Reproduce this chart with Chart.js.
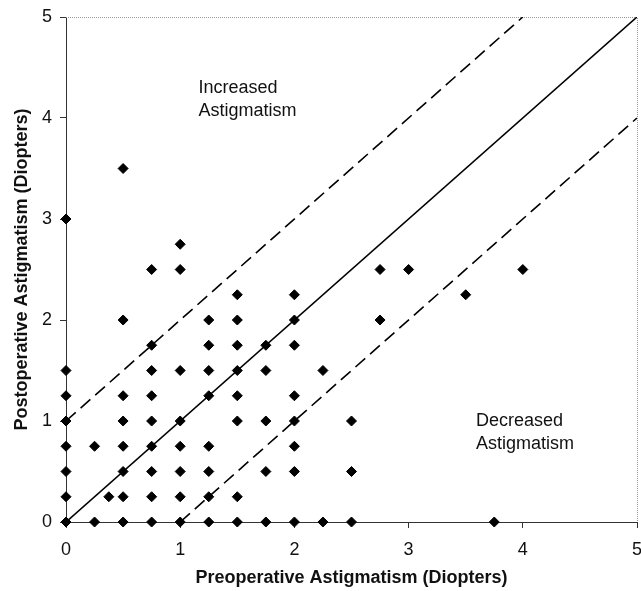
<!DOCTYPE html>
<html lang="en">
<head>
<meta charset="UTF-8">
<title>Astigmatism</title>
<script src="https://cdn.jsdelivr.net/npm/chart.js"></script>
<style>
  body { margin: 0; background: #fff; }
  #wrap { width: 641px; height: 591px; }
</style>
</head>
<body>
<div id="wrap"><canvas id="chart" width="641" height="591"></canvas></div>
<script>
  // each postoperative level and the preoperative values plotted on it
  const postopLevels = [0, 0.25, 0.5, 0.75, 1, 1.25, 1.5, 1.75, 2, 2.25, 2.5, 2.75, 3, 3.5];
  const preopByLevel = [
    [0, 0.25, 0.5, 0.75, 1, 1.25, 1.5, 1.75, 2, 2.25, 2.5, 3.75],
    [0, 0.375, 0.5, 0.75, 1, 1.25, 1.5],
    [0, 0.5, 0.75, 1, 1.25, 1.75, 2, 2.5],
    [0, 0.25, 0.5, 0.75, 1, 1.25, 2],
    [0, 0.5, 0.75, 1, 1.5, 1.75, 2, 2.5],
    [0, 0.5, 0.75, 1.25, 1.5, 2],
    [0, 0.75, 1, 1.25, 1.5, 1.75, 2.25],
    [0.75, 1.25, 1.5, 1.75, 2],
    [0.5, 1.25, 1.5, 2, 2.75],
    [1.5, 2, 3.5],
    [0.75, 1, 2.75, 3, 4],
    [1],
    [0],
    [0.5]
  ];

  // reference lines: no change, +1 D and -1 D
  const noChangeX = [0, 5], noChangeY = [0, 5];
  const plusOneX = [0, 4], plusOneY = [1, 5];
  const minusOneX = [1, 5], minusOneY = [0, 4];

  const tickValues = [0, 1, 2, 3, 4, 5];

  const points = [];
  postopLevels.forEach((lvl, i) => {
    preopByLevel[i].forEach(v => points.push({ x: v, y: lvl }));
  });
  const pairs = (xs, ys) => xs.map((x, i) => ({ x: x, y: ys[i] }));

  const FONT = "'Liberation Sans', Arial, sans-serif";

  const notes = [
    { text: ['Increased', 'Astigmatism'], x: 1.16, y: 4.3 },
    { text: ['Decreased', 'Astigmatism'], x: 3.59, y: 1.0 }
  ];

  const extras = {
    id: 'extras',
    beforeDatasetsDraw(chart) {
      const a = chart.chartArea, ctx = chart.ctx;
      ctx.save();
      ctx.strokeStyle = '#999';
      ctx.lineWidth = 1;
      ctx.setLineDash([1, 1]);
      ctx.beginPath();
      ctx.moveTo(a.left, a.top + 0.5);
      ctx.lineTo(a.right + 0.5, a.top + 0.5);
      ctx.lineTo(a.right + 0.5, a.bottom);
      ctx.stroke();
      ctx.restore();
    },
    afterDraw(chart) {
      const ctx = chart.ctx, sx = chart.scales.x, sy = chart.scales.y;
      ctx.save();
      ctx.fillStyle = '#111';
      ctx.font = '18px ' + FONT;
      ctx.textBaseline = 'middle';
      ctx.textAlign = 'left';
      notes.forEach(n => {
        const px = sx.getPixelForValue(n.x), py = sy.getPixelForValue(n.y);
        n.text.forEach((t, i) => ctx.fillText(t, px, py + i * 23));
      });
      ctx.restore();
    }
  };

  const ctx = document.getElementById('chart').getContext('2d');
  const chart = new Chart(ctx, {
    type: 'scatter',
    data: {
      datasets: [
        {
          label: 'Eyes',
          data: points,
          pointStyle: 'rectRot',
          pointRadius: 5,
          pointBackgroundColor: '#000',
          pointBorderColor: '#000',
          pointBorderWidth: 1,
          clip: false,
          order: 0
        },
        {
          label: 'No change',
          data: pairs(noChangeX, noChangeY),
          showLine: true,
          borderColor: '#000',
          borderWidth: 1.6,
          pointRadius: 0,
          order: 1
        },
        {
          label: '+1',
          data: pairs(plusOneX, plusOneY),
          showLine: true,
          borderColor: '#000',
          borderWidth: 1.6,
          borderDash: [13, 6.5],
          pointRadius: 0,
          order: 1
        },
        {
          label: '-1',
          data: pairs(minusOneX, minusOneY),
          showLine: true,
          borderColor: '#000',
          borderWidth: 1.6,
          borderDash: [13, 6.5],
          pointRadius: 0,
          order: 1
        }
      ]
    },
    options: {
      responsive: false,
      animation: false,
      layout: { autoPadding: false, padding: { top: 17, right: 4, left: 0, bottom: 0 } },
      plugins: { legend: { display: false }, tooltip: { enabled: false } },
      scales: {
        x: {
          min: 0, max: 5,
          afterBuildTicks: s => { s.ticks = tickValues.map(v => ({ value: v })); },
          afterFit: s => { s.height = 69; s.paddingLeft = 0; s.paddingRight = 0; },
          ticks: { color: '#111', font: { family: FONT, size: 18 }, padding: 11, maxRotation: 0 },
          grid: { drawOnChartArea: false, drawTicks: true, tickLength: 6, color: '#333' },
          border: { color: '#333', width: 1 },
          title: {
            display: true,
            text: 'Preoperative Astigmatism (Diopters)',
            color: '#111',
            font: { family: FONT, size: 18, weight: 'bold' },
            padding: { top: 0, bottom: 2 }
          }
        },
        y: {
          min: 0, max: 5,
          afterBuildTicks: s => { s.ticks = tickValues.map(v => ({ value: v })); },
          afterFit: s => { s.width = 66; s.paddingTop = 0; s.paddingBottom = 0; },
          ticks: { color: '#111', font: { family: FONT, size: 18 }, padding: 8 },
          grid: { drawOnChartArea: false, drawTicks: true, tickLength: 6, color: '#333' },
          border: { color: '#333', width: 1 },
          title: {
            display: true,
            text: 'Postoperative Astigmatism (Diopters)',
            color: '#111',
            font: { family: FONT, size: 18, weight: 'bold' },
            padding: { top: 11, bottom: 0 }
          }
        }
      }
    },
    plugins: [extras]
  });
</script>
</body>
</html>
